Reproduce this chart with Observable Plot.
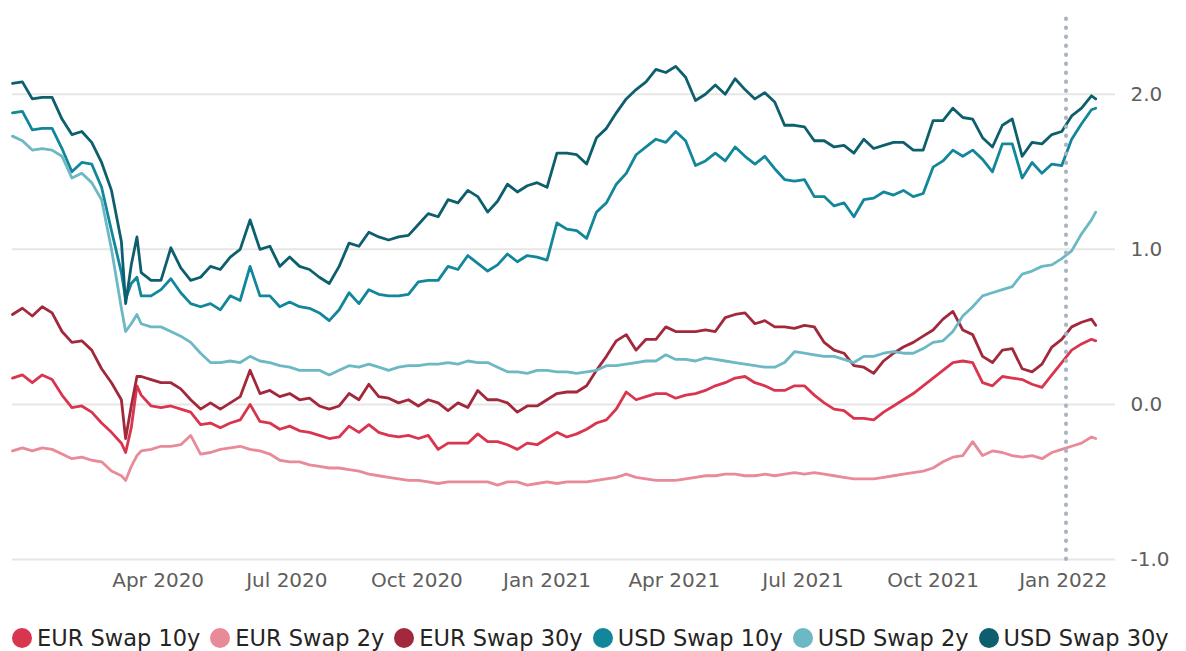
<!DOCTYPE html>
<html><head><meta charset="utf-8">
<script src="https://cdn.jsdelivr.net/npm/d3@7"></script>
<script src="https://cdn.jsdelivr.net/npm/@observablehq/plot@0.6"></script>
<style>
body{margin:0;background:#fff;font-family:"DejaVu Sans",sans-serif;width:1186px;height:651px;overflow:hidden;}
#legend{display:flex;margin:24px 0 0 12px;gap:10px;font-size:22.5px;color:#252423;line-height:28px;white-space:nowrap;}
.item{display:flex;align-items:center;flex:none;}
.dot{width:20px;height:20px;border-radius:50%;margin-right:5px;flex:none;}
</style></head><body><div id="chart"></div><div id="legend"></div>
<script>
const dates = ["2019-12-20","2019-12-27","2020-01-03","2020-01-10","2020-01-17","2020-01-24","2020-01-31","2020-02-07","2020-02-14","2020-02-21","2020-02-28","2020-03-06","2020-03-09","2020-03-13","2020-03-17","2020-03-20","2020-03-27","2020-04-03","2020-04-10","2020-04-17","2020-04-24","2020-05-01","2020-05-08","2020-05-15","2020-05-22","2020-05-29","2020-06-05","2020-06-12","2020-06-19","2020-06-26","2020-07-03","2020-07-10","2020-07-17","2020-07-24","2020-07-31","2020-08-07","2020-08-14","2020-08-21","2020-08-28","2020-09-04","2020-09-11","2020-09-18","2020-09-25","2020-10-02","2020-10-09","2020-10-16","2020-10-23","2020-10-30","2020-11-06","2020-11-13","2020-11-20","2020-11-27","2020-12-04","2020-12-11","2020-12-18","2020-12-25","2021-01-01","2021-01-08","2021-01-15","2021-01-22","2021-01-29","2021-02-05","2021-02-12","2021-02-19","2021-02-26","2021-03-05","2021-03-12","2021-03-19","2021-03-26","2021-04-02","2021-04-09","2021-04-16","2021-04-23","2021-04-30","2021-05-07","2021-05-14","2021-05-21","2021-05-28","2021-06-04","2021-06-11","2021-06-18","2021-06-25","2021-07-02","2021-07-09","2021-07-16","2021-07-23","2021-07-30","2021-08-06","2021-08-13","2021-08-20","2021-08-27","2021-09-03","2021-09-10","2021-09-17","2021-09-24","2021-10-01","2021-10-08","2021-10-15","2021-10-22","2021-10-29","2021-11-05","2021-11-12","2021-11-19","2021-11-26","2021-12-03","2021-12-10","2021-12-17","2021-12-24","2021-12-31","2022-01-07","2022-01-14","2022-01-21","2022-01-24"];

const seriesNames = ["EUR Swap 10y","EUR Swap 2y","EUR Swap 30y","USD Swap 10y","USD Swap 2y","USD Swap 30y"];
const seriesColors = ["#d9354f","#e88a98","#a2283c","#12869a","#6cb8c4","#0d5f6e"];

const eur10 = [0.17,0.19,0.14,0.19,0.16,0.06,-0.02,-0.01,-0.05,-0.12,-0.18,-0.25,-0.31,-0.15,0.12,
0.06,-0.01,-0.02,-0.01,-0.03,-0.05,-0.13,
-0.12,-0.15,-0.12,-0.10,0.00,-0.11,-0.12,-0.16,-0.14,-0.17,
-0.18,-0.20,-0.22,-0.21,-0.14,-0.18,-0.13,-0.18,-0.20,-0.21,
-0.20,-0.22,-0.20,-0.29,-0.25,-0.25,-0.25,-0.19,-0.24,-0.24,
-0.26,-0.29,-0.25,-0.26,-0.22,-0.18,-0.21,-0.19,-0.16,-0.12,
-0.10,-0.03,0.08,0.03,0.05,0.07,0.07,0.04,0.06,0.07,
0.09,0.12,0.14,0.17,0.18,0.14,0.12,0.09,0.09,0.12,
0.12,0.06,0.01,-0.03,-0.04,-0.09,-0.09,-0.10,-0.05,-0.01,
0.03,0.07,0.12,0.17,0.22,0.27,0.28,0.27,0.14,0.12,
0.18,0.17,0.16,0.13,0.11,0.19,0.27,0.35,0.39,0.42,
0.41];

const eur2 = [-0.30,-0.28,-0.30,-0.28,-0.29,-0.32,-0.35,-0.34,-0.36,-0.37,-0.43,-0.46,-0.49,-0.40,-0.33,
-0.30,-0.29,-0.27,-0.27,-0.26,-0.20,-0.32,
-0.31,-0.29,-0.28,-0.27,-0.29,-0.30,-0.32,-0.36,-0.37,-0.37,
-0.39,-0.40,-0.41,-0.41,-0.42,-0.43,-0.45,-0.46,-0.47,-0.48,
-0.49,-0.49,-0.50,-0.51,-0.50,-0.50,-0.50,-0.50,-0.50,-0.52,
-0.50,-0.50,-0.52,-0.51,-0.50,-0.51,-0.50,-0.50,-0.50,-0.49,
-0.48,-0.47,-0.45,-0.47,-0.48,-0.49,-0.49,-0.49,-0.48,-0.47,
-0.46,-0.46,-0.45,-0.45,-0.46,-0.46,-0.45,-0.46,-0.45,-0.44,
-0.45,-0.44,-0.45,-0.46,-0.47,-0.48,-0.48,-0.48,-0.47,-0.46,
-0.45,-0.44,-0.43,-0.41,-0.37,-0.34,-0.33,-0.24,-0.33,-0.30,
-0.31,-0.33,-0.34,-0.33,-0.35,-0.31,-0.29,-0.27,-0.25,-0.21,
-0.22];

const eur30 = [0.58,0.62,0.57,0.63,0.59,0.47,0.40,0.41,0.35,0.23,0.14,0.03,-0.22,-0.01,0.18,
0.18,0.16,0.14,0.14,0.10,0.03,-0.03,
0.01,-0.03,0.01,0.05,0.22,0.07,0.09,0.05,0.07,0.03,
0.04,-0.01,-0.03,-0.01,0.07,0.03,0.13,0.05,0.04,0.01,
0.03,-0.01,0.03,0.01,-0.04,0.01,-0.02,0.09,0.03,0.03,
0.01,-0.05,-0.01,-0.01,0.03,0.07,0.08,0.08,0.12,0.22,
0.31,0.41,0.45,0.35,0.42,0.42,0.50,0.47,0.47,0.47,
0.48,0.47,0.56,0.58,0.59,0.52,0.54,0.50,0.50,0.49,
0.51,0.50,0.40,0.35,0.33,0.25,0.24,0.20,0.28,0.33,
0.37,0.40,0.44,0.48,0.55,0.60,0.48,0.45,0.31,0.27,
0.35,0.36,0.23,0.21,0.26,0.37,0.42,0.50,0.53,0.55,
0.51];

const usd10 = [1.88,1.89,1.77,1.78,1.78,1.65,1.50,1.56,1.55,1.40,1.12,0.85,0.68,0.78,0.82,
0.70,0.70,0.74,0.81,0.72,0.65,0.63,
0.65,0.61,0.70,0.67,0.89,0.70,0.70,0.63,0.66,0.63,
0.62,0.59,0.54,0.61,0.72,0.65,0.74,0.71,0.70,0.70,
0.71,0.79,0.80,0.80,0.89,0.87,0.96,0.91,0.86,0.90,
0.97,0.92,0.96,0.95,0.93,1.17,1.13,1.12,1.07,1.24,
1.30,1.42,1.49,1.61,1.66,1.71,1.69,1.76,1.70,1.54,
1.57,1.62,1.57,1.66,1.60,1.55,1.60,1.52,1.45,1.44,
1.45,1.34,1.34,1.28,1.30,1.21,1.32,1.33,1.37,1.35,
1.38,1.34,1.36,1.53,1.57,1.64,1.60,1.64,1.58,1.50,
1.68,1.68,1.46,1.56,1.49,1.55,1.54,1.71,1.81,1.90,
1.91];

const usd2 = [1.73,1.70,1.64,1.65,1.64,1.60,1.46,1.49,1.43,1.32,1.00,0.62,0.47,0.52,0.58,
0.52,0.50,0.50,0.47,0.44,0.40,0.33,
0.27,0.27,0.28,0.27,0.31,0.28,0.27,0.25,0.24,0.22,
0.22,0.22,0.19,0.22,0.25,0.24,0.26,0.24,0.22,0.24,
0.25,0.25,0.26,0.26,0.27,0.26,0.28,0.27,0.27,0.24,
0.21,0.21,0.20,0.22,0.22,0.21,0.21,0.20,0.21,0.22,
0.25,0.25,0.26,0.27,0.28,0.28,0.32,0.29,0.29,0.28,
0.30,0.29,0.28,0.27,0.26,0.25,0.24,0.24,0.27,0.34,
0.33,0.32,0.31,0.31,0.29,0.27,0.31,0.31,0.33,0.34,
0.33,0.33,0.36,0.40,0.41,0.47,0.57,0.63,0.70,0.72,
0.74,0.76,0.84,0.86,0.89,0.90,0.94,0.99,1.10,1.19,
1.24];

const usd30 = [2.07,2.08,1.97,1.98,1.98,1.84,1.74,1.76,1.69,1.56,1.38,1.05,0.65,0.90,1.08,
0.85,0.80,0.80,1.01,0.88,0.80,0.82,
0.89,0.87,0.95,1.00,1.19,1.00,1.02,0.89,0.95,0.89,
0.87,0.82,0.78,0.89,1.04,1.02,1.11,1.08,1.06,1.08,
1.09,1.16,1.23,1.21,1.32,1.30,1.38,1.34,1.24,1.31,
1.42,1.37,1.41,1.43,1.40,1.62,1.62,1.61,1.55,1.72,
1.78,1.88,1.97,2.03,2.08,2.16,2.14,2.18,2.11,1.96,
2.00,2.06,2.00,2.10,2.03,1.97,2.01,1.95,1.80,1.80,
1.79,1.70,1.70,1.66,1.67,1.62,1.71,1.65,1.67,1.69,
1.69,1.64,1.64,1.83,1.83,1.91,1.85,1.84,1.72,1.66,
1.80,1.84,1.60,1.69,1.68,1.74,1.76,1.86,1.91,1.99,
1.97];

const yTicks = [-1, 0, 1, 2];
const xTicks = ["2020-04-01","2020-07-01","2020-10-01","2021-01-01","2021-04-01","2021-07-01","2021-10-01","2022-01-01"];
const xDomain = ["2019-12-20","2022-02-07"];
const markerDate = "2022-01-03";

const valuesBySeries = [eur10, eur2, eur30, usd10, usd2, usd30];
const rows = [];
seriesNames.forEach((s, k) => valuesBySeries[k].forEach((v, i) => rows.push({series: s, date: new Date(dates[i]), value: v})));

const chart = Plot.plot({
  width: 1186, height: 600,
  marginLeft: 12, marginRight: 71, marginTop: 10, marginBottom: 41,
  style: {fontFamily: "'DejaVu Sans', sans-serif", fontSize: "20px", color: "#605e5c", background: "#fff"},
  x: {type: "utc", domain: xDomain.map(d => new Date(d)), ticks: xTicks.map(d => new Date(d)), tickFormat: d3.utcFormat("%b %Y"), tickSize: 0, tickPadding: 13, label: null},
  y: {domain: [-1, 2.54], ticks: yTicks, tickFormat: d => d.toFixed(1), axis: "right", tickSize: 0, tickPadding: 15, label: null},
  color: {domain: seriesNames, range: seriesColors},
  marks: [
    Plot.ruleY(yTicks, {stroke: "#e6e6e6", strokeWidth: 2}),
    Plot.lineY(rows, {x: "date", y: "value", z: "series", stroke: "series", strokeWidth: 2.8, strokeLinejoin: "round"}),
    Plot.ruleX([{date: new Date(markerDate), lo: -1, hi: 2.54}], {x: "date", y1: "lo", y2: "hi", stroke: "#a9b4c3", strokeWidth: 4, strokeDasharray: "0.5 8.5", strokeLinecap: "round"})
  ]
});
document.getElementById("chart").appendChild(chart);

const legend = document.getElementById("legend");
seriesNames.forEach((s, k) => {
  const it = document.createElement("div"); it.className = "item";
  const dot = document.createElement("span"); dot.className = "dot"; dot.style.background = seriesColors[k];
  const tx = document.createElement("span"); tx.textContent = s;
  it.appendChild(dot); it.appendChild(tx); legend.appendChild(it);
});
</script></body></html>
